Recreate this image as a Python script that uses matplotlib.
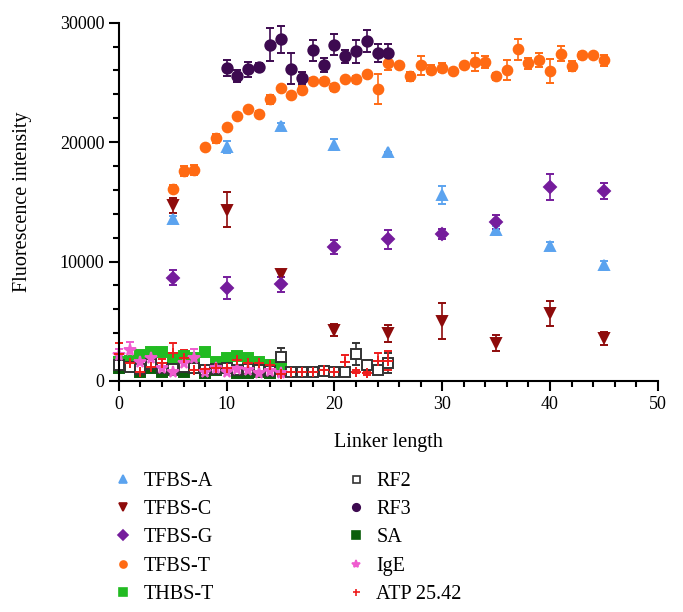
import matplotlib.pyplot as plt
from matplotlib.lines import Line2D
from matplotlib.ticker import MultipleLocator

# Linker lengths
x_tfbs = [5, 10, 15, 20, 25, 30, 35, 40, 45]
x_tfbs_t = list(range(5, 46))
x_rf3 = list(range(10, 26))
x_low = list(range(0, 26))
x_short = list(range(0, 16))

# TFBS series (every 5)
tfbs_a = [13520, 19590, 21320, 19790, 19140, 15550, 12620, 11310, 9670]
tfbs_a_err = [250, 530, 250, 490, 0, 770, 380, 300, 400]
tfbs_c = [14710, 14350, 8920, 4260, 3990, 5040, 3150, 5660, 3570]
tfbs_c_err = [630, 1460, 250, 530, 720, 1500, 670, 1050, 560]
tfbs_g = [8640, 7770, 8080, 11200, 11850, 12290, 13290, 16240, 15910]
tfbs_g_err = [640, 930, 650, 570, 820, 420, 600, 1050, 700]

tfbs_t = [16110, 17580, 17640, 19560, 20310, 21230, 22210, 22740, 22350, 23580,
          24500, 23930, 24390, 25140, 25140, 24600, 25270, 25250, 25690, 24440,
          26640, 26480, 25500, 26440, 26060, 26230, 25970, 26440, 26730, 26730,
          25500, 26020, 27760, 26610, 26890, 25940, 27400, 26360, 27250, 27250,
          26840]
tfbs_t_err = [330, 400, 400, 150, 350, 150, 150, 150, 250, 350,
              150, 200, 300, 200, 250, 300, 150, 300, 150, 1230,
              600, 150, 350, 800, 400, 350, 150, 150, 770, 500,
              300, 840, 900, 450, 600, 1000, 650, 450, 300, 150,
              450]

rf3 = [26190, 25520, 26080, 26280, 28170, 28590, 26140, 25360, 27670, 26420,
       28170, 27170, 27590, 28450, 27450, 27450]
rf3_err = [670, 490, 610, 330, 1370, 1160, 1300, 500, 840, 580,
           900, 580, 980, 900, 770, 790]

# low-signal controls
rf2 = [1300, 1200, 1000, 1400, 1100, 1000, 1200, 1100, 900, 1000, 1100, 900, 1000,
       900, 800, 2000, 780, 780, 780, 860, 780, 780, 2260, 1340, 920, 1530]
rf2_err = [400, 300, 200, 500, 300, 300, 300, 200, 200, 200, 300, 200, 200,
           150, 150, 730, 100, 100, 100, 150, 100, 100, 950, 400, 200, 830]
atp = [2250, 1500, 780, 1200, 1480, 2300, 1900, 920, 1000, 1110, 1110, 1750, 1480,
       1480, 1340, 590, 780, 780, 780, 920, 780, 1560, 780, 630, 1650, 1700]
atp_err = [900, 560, 200, 400, 400, 840, 700, 200, 200, 200, 200, 560, 700,
           400, 400, 150, 100, 100, 100, 100, 100, 600, 100, 100, 700, 800]
sa = [1060, 1340, 780, 1060, 780, 920, 780, 1200, 640, 920, 1060, 640, 640, 780, 700, 1000]
sa_err = [250, 250, 150, 200, 150, 200, 150, 250, 150, 200, 200, 150, 150, 150, 150, 200]
thbs_t = [1600, 1700, 2200, 2450, 2450, 1900, 2060, 1900, 2450, 1560, 1900, 2060,
          1900, 1560, 1300, 1400]
thbs_t_err = [300, 250, 250, 300, 300, 250, 250, 250, 200, 250, 250, 250, 250, 200, 200, 200]
ige = [2200, 2600, 1600, 1900, 1100, 780, 1480, 1920, 780, 1110, 780, 1000, 900, 700, 800, 700]
ige_err = [500, 670, 300, 300, 200, 150, 300, 740, 150, 200, 150, 200, 150, 150, 150, 150]

plt.rcParams['font.family'] = ['Liberation Serif', 'DejaVu Serif']

fig = plt.figure(figsize=(6.83, 6.12), dpi=100)
ax = fig.add_axes([0.174, 0.3775, 0.789, 0.5855])

series = [
    # label, x, y, err, marker, face, edge, size
    ('SA', x_short, sa, sa_err, 's', '#0b5e0b', '#0b5e0b', 7.5),
    ('THBS-T', x_short, thbs_t, thbs_t_err, 's', '#22bb22', '#22bb22', 7.5),
    ('RF2', x_low, rf2, rf2_err, 's', 'white', '#333333', 7),
    ('IgE', x_short, ige, ige_err, '*', '#ef5ccf', '#ef5ccf', 8.5),
    ('ATP 25.42', x_low, atp, atp_err, '+', '#ee1c1c', '#ee1c1c', 7),
    ('TFBS-A', x_tfbs, tfbs_a, tfbs_a_err, '^', '#5ba3ef', '#5ba3ef', 7.5),
    ('TFBS-C', x_tfbs, tfbs_c, tfbs_c_err, 'v', '#8e0b0b', '#8e0b0b', 7.5),
    ('TFBS-G', x_tfbs, tfbs_g, tfbs_g_err, 'D', '#751c9c', '#751c9c', 6.5),
    ('TFBS-T', x_tfbs_t, tfbs_t, tfbs_t_err, 'o', '#ff6a13', '#ff6a13', 7),
    ('RF3', x_rf3, rf3, rf3_err, 'o', '#3d0a50', '#3d0a50', 7.5),
]

handles = {}
for label, xs, ys, errs, mk, fc, ec, ms in series:
    ax.errorbar(xs, ys, yerr=errs, fmt=mk, ms=ms, mfc=fc, mec=ec, mew=1.4,
                ecolor=ec, elinewidth=1.2, capsize=3.2, capthick=1.2, clip_on=False)
    handles[label] = Line2D([], [], ls='none', marker=mk, ms=ms * 0.72,
                            mfc=fc, mec=ec, mew=1.2)

ax.set_xlim(0, 50)
ax.set_ylim(0, 30000)
ax.xaxis.set_major_locator(MultipleLocator(10))
ax.xaxis.set_minor_locator(MultipleLocator(2))
ax.yaxis.set_major_locator(MultipleLocator(10000))
ax.yaxis.set_minor_locator(MultipleLocator(2000))
for side in ['top', 'right']:
    ax.spines[side].set_visible(False)
for side in ['left', 'bottom']:
    ax.spines[side].set_linewidth(1.5)
ax.tick_params(which='major', length=7, width=1.5, labelsize=13, direction='out')
ax.tick_params(which='minor', length=4.5, width=1.5, direction='out')

ax.set_xlabel('Linker length', fontsize=14.5, labelpad=15)
ax.set_ylabel('Fluorescence intensity', fontsize=14.5, labelpad=20)

left_labels = ['TFBS-A', 'TFBS-C', 'TFBS-G', 'TFBS-T', 'THBS-T']
right_labels = ['RF2', 'RF3', 'SA', 'IgE', 'ATP 25.42']
for labels, x0 in [(left_labels, 113.0), (right_labels, 346.0)]:
    fig.legend([handles[l] for l in labels], labels, loc='upper left',
               bbox_to_anchor=(x0 / 683, 1 - 472 / 612), frameon=False,
               fontsize=14.5, handlelength=1.0, handletextpad=0.5,
               borderpad=0, borderaxespad=0, labelspacing=0.45)

fig.savefig('out.png', dpi=100)
